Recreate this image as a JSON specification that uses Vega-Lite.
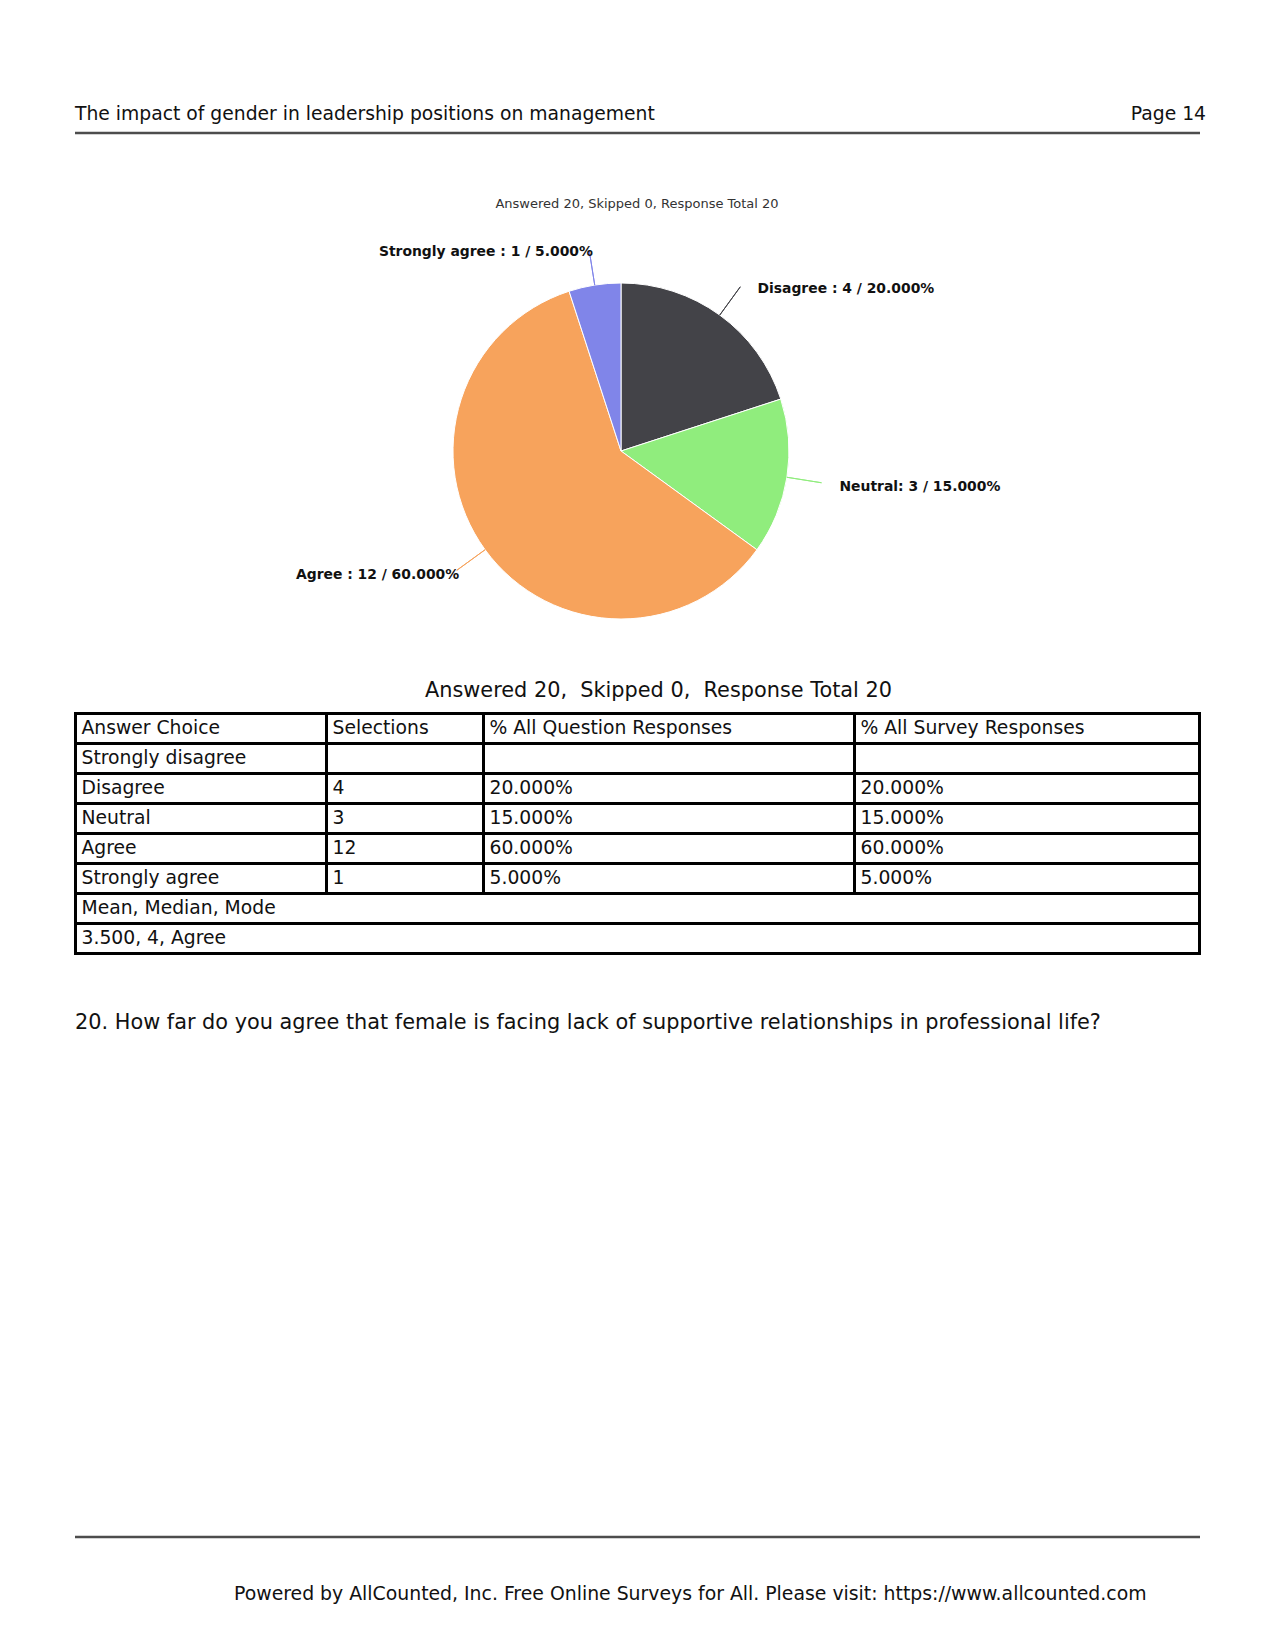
{
  "$schema": "https://vega.github.io/schema/vega-lite/v6.json",
  "width": 1275,
  "height": 1651,
  "autosize": {"type": "fit", "contains": "padding"},
  "padding": 0,
  "background": "white",
  "config": {"view": {"stroke": null}},
  "datasets": {
    "doc": [
      {
        "header": "The impact of gender in leadership positions on management",
        "page": "Page 14",
        "chartTitle": "Answered 20, Skipped 0, Response Total 20",
        "caption": "Answered 20,\u00a0 Skipped 0,\u00a0 Response Total 20",
        "question": "20. How far do you agree that female is facing lack of supportive relationships in professional life?",
        "footer": "Powered by AllCounted, Inc. Free Online Surveys for All. Please visit: https://www.allcounted.com"
      }
    ],
    "answers": [
      {"choice": "Strongly disagree", "idx": 1, "count": 0, "label": "Strongly disagree : 0 / 0.000%"},
      {"choice": "Disagree", "idx": 2, "count": 4, "label": "Disagree : 4 / 20.000%"},
      {"choice": "Neutral", "idx": 3, "count": 3, "label": "Neutral: 3 / 15.000%"},
      {"choice": "Agree", "idx": 4, "count": 12, "label": "Agree : 12 / 60.000%"},
      {"choice": "Strongly agree", "idx": 5, "count": 1, "label": "Strongly agree : 1 / 5.000%"}
    ],
    "table": [
      {"choice": "Answer Choice", "selections": "Selections", "pctQuestion": "% All Question Responses", "pctSurvey": "% All Survey Responses", "kind": "header"},
      {"choice": "Strongly disagree", "selections": "", "pctQuestion": "", "pctSurvey": "", "kind": "answer"},
      {"choice": "Disagree", "selections": "4", "pctQuestion": "20.000%", "pctSurvey": "20.000%", "kind": "answer"},
      {"choice": "Neutral", "selections": "3", "pctQuestion": "15.000%", "pctSurvey": "15.000%", "kind": "answer"},
      {"choice": "Agree", "selections": "12", "pctQuestion": "60.000%", "pctSurvey": "60.000%", "kind": "answer"},
      {"choice": "Strongly agree", "selections": "1", "pctQuestion": "5.000%", "pctSurvey": "5.000%", "kind": "answer"},
      {"choice": "Mean, Median, Mode", "selections": "", "pctQuestion": "", "pctSurvey": "", "kind": "stat"},
      {"choice": "3.500, 4, Agree", "selections": "", "pctQuestion": "", "pctSurvey": "", "kind": "stat"}
    ]
  },
  "resolve": {"scale": {"y": "independent"}},
  "layer": [
    {
      "layer": [
        {
          "data": {"name": "doc"},
          "mark": {"type": "text", "align": "left", "baseline": "alphabetic", "font": "DejaVu Sans", "fontSize": 18.75, "color": "#111111"},
          "encoding": {
            "text": {"field": "header", "type": "nominal"},
            "x": {"datum": 75, "type": "quantitative", "scale": {"domain": [0, 1275], "nice": false, "zero": false}, "axis": null},
            "y": {"datum": 120, "type": "quantitative", "scale": {"domain": [0, 1651], "nice": false, "zero": false, "reverse": true}, "axis": null}
          }
        },
        {
          "data": {"name": "doc"},
          "mark": {"type": "text", "align": "right", "baseline": "alphabetic", "font": "DejaVu Sans", "fontSize": 18.75, "color": "#111111"},
          "encoding": {
            "text": {"field": "page", "type": "nominal"},
            "x": {"datum": 1206, "type": "quantitative", "axis": null},
            "y": {"datum": 120, "type": "quantitative", "axis": null}
          }
        },
        {
          "data": {"name": "doc"},
          "mark": {"type": "rule", "color": "#4d4d4d", "strokeWidth": 2.5},
          "encoding": {
            "x": {"datum": 75, "type": "quantitative", "axis": null},
            "x2": {"datum": 1200},
            "y": {"datum": 133, "type": "quantitative", "axis": null}
          }
        },
        {
          "data": {"name": "doc"},
          "mark": {"type": "text", "align": "center", "baseline": "middle", "font": "DejaVu Sans", "fontSize": 13, "color": "#333333"},
          "encoding": {
            "text": {"field": "chartTitle", "type": "nominal"},
            "x": {"datum": 637, "type": "quantitative", "axis": null},
            "y": {"datum": 203.5, "type": "quantitative", "axis": null}
          }
        },
        {
          "data": {"name": "answers"},
          "transform": [{"filter": "datum.count > 0"}],
          "mark": {"type": "arc", "outerRadius": 168, "stroke": "white", "strokeWidth": 1},
          "encoding": {
            "theta": {"field": "count", "type": "quantitative", "stack": true, "scale": {"domain": [0, 20], "nice": false}},
            "order": {"field": "idx", "type": "quantitative"},
            "color": {
              "field": "choice",
              "type": "nominal",
              "scale": {
                "domain": ["Strongly disagree", "Disagree", "Neutral", "Agree", "Strongly agree"],
                "range": ["#7cb5ec", "#434348", "#90ed7d", "#f7a35c", "#8085e9"]
              },
              "legend": null
            },
            "x": {"datum": 621, "type": "quantitative", "axis": null},
            "y": {"datum": 451, "type": "quantitative", "axis": null}
          }
        },
        {
          "data": {"name": "answers"},
          "transform": [
            {"filter": "datum.count > 0"},
            {"stack": "count", "groupby": [], "sort": [{"field": "idx", "order": "ascending"}], "as": ["t0", "t1"]},
            {"calculate": "(datum.t0 + datum.t1) / 2", "as": "mid"}
          ],
          "layer": [
            {
              "mark": {"type": "arc", "innerRadius": 168, "outerRadius": 203, "filled": false, "strokeWidth": 1},
              "encoding": {
                "theta": {"field": "mid", "type": "quantitative", "stack": null},
                "theta2": {"field": "mid"},
                "color": {"field": "choice", "type": "nominal", "legend": null},
                "x": {"datum": 621, "type": "quantitative", "axis": null},
                "y": {"datum": 451, "type": "quantitative", "axis": null}
              }
            },
            {
              "transform": [{"filter": "datum.mid < 10"}],
              "mark": {"type": "text", "align": "left", "baseline": "middle", "radius": 205, "dx": 16, "dy": 3.5, "font": "DejaVu Sans", "fontWeight": "bold", "fontSize": 13.9, "color": "#111111"},
              "encoding": {
                "theta": {"field": "mid", "type": "quantitative", "stack": null},
                "text": {"field": "label", "type": "nominal"},
                "x": {"datum": 621, "type": "quantitative", "axis": null},
                "y": {"datum": 451, "type": "quantitative", "axis": null}
              }
            },
            {
              "transform": [{"filter": "datum.mid >= 10"}],
              "mark": {"type": "text", "align": "right", "baseline": "middle", "radius": 205, "dx": 4, "dy": 3.5, "font": "DejaVu Sans", "fontWeight": "bold", "fontSize": 13.9, "color": "#111111"},
              "encoding": {
                "theta": {"field": "mid", "type": "quantitative", "stack": null},
                "text": {"field": "label", "type": "nominal"},
                "x": {"datum": 621, "type": "quantitative", "axis": null},
                "y": {"datum": 451, "type": "quantitative", "axis": null}
              }
            }
          ]
        },
        {
          "data": {"name": "doc"},
          "mark": {"type": "text", "align": "left", "baseline": "alphabetic", "font": "DejaVu Sans", "fontSize": 20.83, "color": "#111111"},
          "encoding": {
            "text": {"field": "caption", "type": "nominal"},
            "x": {"datum": 425, "type": "quantitative", "axis": null},
            "y": {"datum": 697, "type": "quantitative", "axis": null}
          }
        },
        {
          "data": {"name": "doc"},
          "mark": {"type": "text", "align": "left", "baseline": "alphabetic", "font": "DejaVu Sans", "fontSize": 20.83, "color": "#111111"},
          "encoding": {
            "text": {"field": "question", "type": "nominal"},
            "x": {"datum": 75, "type": "quantitative", "axis": null},
            "y": {"datum": 1028.5, "type": "quantitative", "axis": null}
          }
        },
        {
          "data": {"name": "doc"},
          "mark": {"type": "rule", "color": "#4d4d4d", "strokeWidth": 2.5},
          "encoding": {
            "x": {"datum": 75, "type": "quantitative", "axis": null},
            "x2": {"datum": 1200},
            "y": {"datum": 1537, "type": "quantitative", "axis": null}
          }
        },
        {
          "data": {"name": "doc"},
          "mark": {"type": "text", "align": "left", "baseline": "alphabetic", "font": "DejaVu Sans", "fontSize": 18.85, "color": "#111111"},
          "encoding": {
            "text": {"field": "footer", "type": "nominal"},
            "x": {"datum": 234, "type": "quantitative", "axis": null},
            "y": {"datum": 1600, "type": "quantitative", "axis": null}
          }
        }
      ]
    },
    {
      "data": {"name": "table"},
      "layer": [
        {
          "mark": {"type": "rect", "fill": "white", "stroke": "black", "strokeWidth": 3},
          "encoding": {
            "x": {"datum": 75.5, "type": "quantitative", "axis": null},
            "x2": {"datum": 1199.5},
            "y": {
              "field": "choice",
              "type": "nominal",
              "sort": null,
              "scale": {
                "type": "band",
                "domain": ["Answer Choice", "Strongly disagree", "Disagree", "Neutral", "Agree", "Strongly agree", "Mean, Median, Mode", "3.500, 4, Agree"],
                "range": [713.5, 953.5],
                "paddingInner": 0,
                "paddingOuter": 0
              },
              "axis": null
            }
          }
        },
        {
          "transform": [{"filter": "datum.kind != 'stat'"}],
          "mark": {"type": "rect", "fill": "white", "stroke": "black", "strokeWidth": 3},
          "encoding": {
            "x": {"datum": 326.5, "type": "quantitative", "axis": null},
            "x2": {"datum": 483.5},
            "y": {"field": "choice", "type": "nominal", "sort": null, "axis": null}
          }
        },
        {
          "transform": [{"filter": "datum.kind != 'stat'"}],
          "mark": {"type": "rect", "fill": "white", "stroke": "black", "strokeWidth": 3},
          "encoding": {
            "x": {"datum": 483.5, "type": "quantitative", "axis": null},
            "x2": {"datum": 854.5},
            "y": {"field": "choice", "type": "nominal", "sort": null, "axis": null}
          }
        },
        {
          "mark": {"type": "text", "align": "left", "baseline": "middle", "dy": -1, "font": "DejaVu Sans", "fontSize": 18.75, "color": "#111111"},
          "encoding": {
            "text": {"field": "choice", "type": "nominal"},
            "x": {"datum": 81.5, "type": "quantitative", "axis": null},
            "y": {"field": "choice", "type": "nominal", "sort": null, "axis": null}
          }
        },
        {
          "transform": [{"filter": "datum.kind != 'stat'"}],
          "mark": {"type": "text", "align": "left", "baseline": "middle", "dy": -1, "font": "DejaVu Sans", "fontSize": 18.75, "color": "#111111"},
          "encoding": {
            "text": {"field": "selections", "type": "nominal"},
            "x": {"datum": 332.5, "type": "quantitative", "axis": null},
            "y": {"field": "choice", "type": "nominal", "sort": null, "axis": null}
          }
        },
        {
          "transform": [{"filter": "datum.kind != 'stat'"}],
          "mark": {"type": "text", "align": "left", "baseline": "middle", "dy": -1, "font": "DejaVu Sans", "fontSize": 18.75, "color": "#111111"},
          "encoding": {
            "text": {"field": "pctQuestion", "type": "nominal"},
            "x": {"datum": 489.5, "type": "quantitative", "axis": null},
            "y": {"field": "choice", "type": "nominal", "sort": null, "axis": null}
          }
        },
        {
          "transform": [{"filter": "datum.kind != 'stat'"}],
          "mark": {"type": "text", "align": "left", "baseline": "middle", "dy": -1, "font": "DejaVu Sans", "fontSize": 18.75, "color": "#111111"},
          "encoding": {
            "text": {"field": "pctSurvey", "type": "nominal"},
            "x": {"datum": 860.5, "type": "quantitative", "axis": null},
            "y": {"field": "choice", "type": "nominal", "sort": null, "axis": null}
          }
        }
      ]
    }
  ]
}
